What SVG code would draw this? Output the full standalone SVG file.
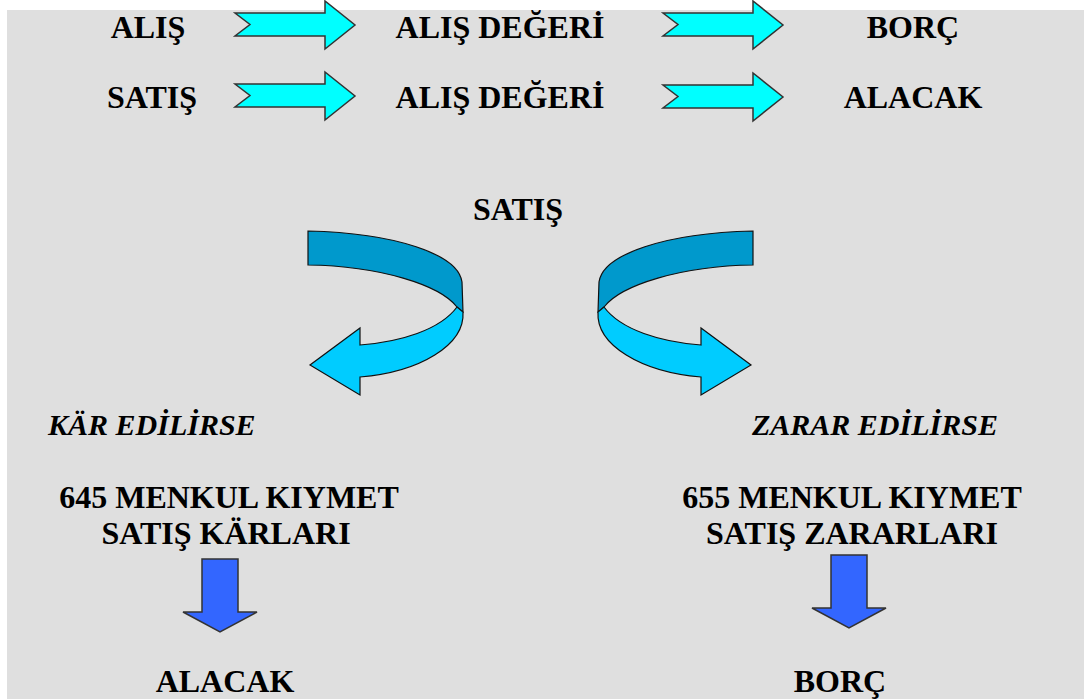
<svg xmlns="http://www.w3.org/2000/svg" xmlns:xlink="http://www.w3.org/1999/xlink" width="1084" height="699" viewBox="0 0 1084 699">
  <style>
    .lbl { font-family: "Liberation Serif", "Times New Roman", serif; font-weight: bold; font-size: 32px; fill: #000; }
    .ital { font-style: italic; font-size: 30px; }
    .flow { fill: #00FFFF; stroke: #333; stroke-width: 1.5; stroke-linejoin: miter; }
    .down { fill: #3366FF; stroke: #333; stroke-width: 1.5; }
    .band-dark { fill: #0099CC; stroke: #111; stroke-width: 1.2; }
    .band-light { fill: #00CCFF; stroke: #111; stroke-width: 1.2; }
  </style>
  <defs>
    <!-- notched block arrow pointing right -->
    <path id="notched" d="M0,12 L90,12 L90,0 L120,24 L90,48 L90,35 L0,35 L15,23.5 Z"/>
    <!-- block arrow pointing down -->
    <path id="downArrow" d="M19,0 L55,0 L55,53 L74,53 L37,73 L0,53 L19,53 Z"/>
    <!-- ribbon arrow curving round to the left -->
    <g id="uturn">
      <path class="band-dark" d="M308,231 C395,233 458,254 462,282 L463,312 L457,307 C440,285 380,266 308,265 Z"/>
      <path class="band-light" d="M457,307 C440,330 400,342 360,345 L360,328 L310,365 L360,395 L360,377 C420,372 465,345 463,312 Z"/>
    </g>
  </defs>

  <!-- slide background -->
  <rect x="7" y="10" width="1077" height="689" fill="#DFDFDF"/>

  <g id="connectors">
    <use xlink:href="#notched" class="flow" transform="translate(235,1)"/>
    <use xlink:href="#notched" class="flow" transform="translate(663,1)"/>
    <use xlink:href="#notched" class="flow" transform="translate(235,72)"/>
    <use xlink:href="#notched" class="flow" transform="translate(663,73)"/>
    <use xlink:href="#uturn"/>
    <use xlink:href="#uturn" transform="translate(1061,0) scale(-1,1)"/>
    <use xlink:href="#downArrow" class="down" transform="translate(183,559)"/>
    <use xlink:href="#downArrow" class="down" transform="translate(812,555)"/>
  </g>

  <g id="row-alis">
    <text class="lbl" x="148" y="38" text-anchor="middle">ALIŞ</text>
  </g>
  <g id="row-alis-deger">
    <text class="lbl" x="500" y="38" text-anchor="middle">ALIŞ DEĞERİ</text>
  </g>
  <g id="row-borc">
    <text class="lbl" x="913" y="38" text-anchor="middle">BORÇ</text>
  </g>
  <g id="row-satis">
    <text class="lbl" x="152" y="108" text-anchor="middle">SATIŞ</text>
  </g>
  <g id="row-satis-deger">
    <text class="lbl" x="500" y="108" text-anchor="middle">ALIŞ DEĞERİ</text>
  </g>
  <g id="row-alacak">
    <text class="lbl" x="913" y="108" text-anchor="middle">ALACAK</text>
  </g>

  <g id="satis">
    <text class="lbl" x="518" y="220" text-anchor="middle">SATIŞ</text>
  </g>

  <g id="kar">
    <text class="lbl ital" x="48" y="435">KÄR EDİLİRSE</text>
    <text class="lbl" x="229" y="508" text-anchor="middle">645 MENKUL KIYMET</text>
    <text class="lbl" x="226" y="544" text-anchor="middle">SATIŞ KÄRLARI</text>
  </g>
  <g id="kar-alacak">
    <text class="lbl" x="225" y="692" text-anchor="middle">ALACAK</text>
  </g>

  <g id="zarar">
    <text class="lbl ital" x="752" y="435">ZARAR EDİLİRSE</text>
    <text class="lbl" x="852" y="508" text-anchor="middle">655 MENKUL KIYMET</text>
    <text class="lbl" x="852" y="544" text-anchor="middle">SATIŞ ZARARLARI</text>
  </g>
  <g id="zarar-borc">
    <text class="lbl" x="840" y="692" text-anchor="middle">BORÇ</text>
  </g>
</svg>
